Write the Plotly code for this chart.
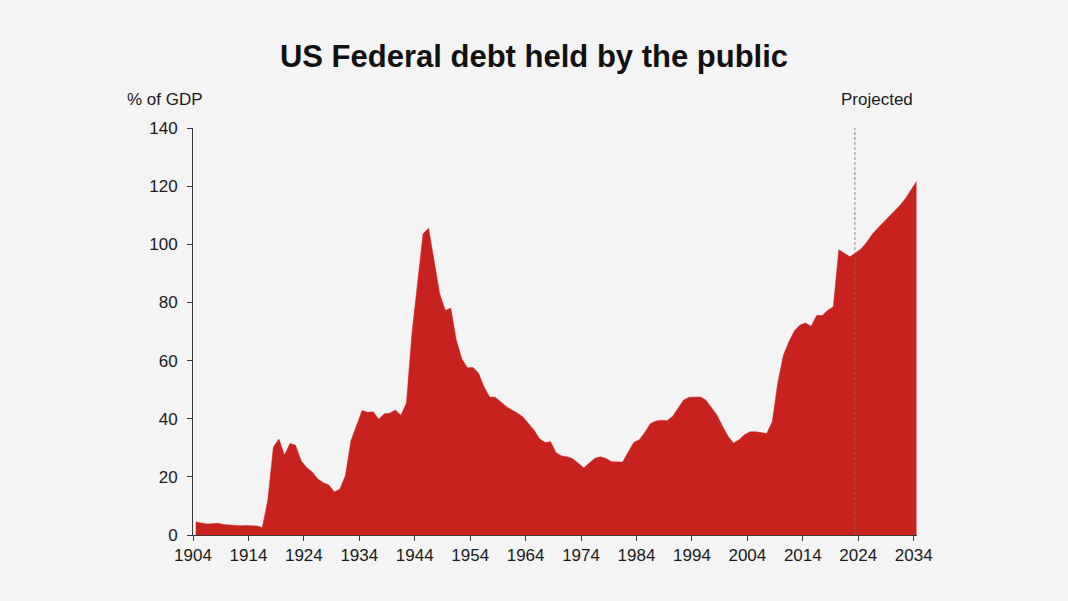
import plotly.graph_objects as go

years = list(range(1904, 2035))
debt_pct = [
    4.5, 4.1, 3.8, 3.9, 4.0, 3.6, 3.4, 3.3, 3.2, 3.3,          # 1904-1913
    3.3, 3.1, 2.6, 12.0, 30.3, 33.0, 27.5, 31.5, 30.9, 25.5,   # 1914-1923
    23.2, 21.7, 19.3, 18.0, 17.2, 14.8, 15.8, 20.5, 32.5, 37.5, # 1924-1933
    42.8, 42.2, 42.4, 39.8, 41.7, 41.9, 43.0, 41.2, 45.4, 69.5, # 1934-1943
    86.0, 103.6, 105.5, 93.5, 83.0, 77.3, 78.0, 67.0, 60.5, 57.5, # 1944-1953
    57.6, 55.7, 50.9, 47.5, 47.4, 45.8, 44.2, 43.0, 42.0, 40.6, # 1954-1963
    38.5, 36.1, 33.1, 31.8, 32.1, 28.3, 27.2, 26.9, 26.2, 24.8, # 1964-1973
    23.1, 24.8, 26.4, 26.9, 26.3, 25.2, 25.2, 25.1, 28.5, 31.8, # 1974-1983
    32.8, 35.3, 38.3, 39.2, 39.5, 39.3, 40.8, 43.8, 46.4, 47.4, # 1984-1993
    47.5, 47.5, 46.4, 44.0, 41.3, 37.5, 34.0, 31.6, 32.8, 34.5, # 1994-2003
    35.5, 35.5, 35.3, 34.9, 39.0, 52.5, 61.8, 66.5, 70.3, 72.2, # 2004-2013
    72.9, 71.8, 75.5, 75.5, 77.3, 78.5, 98.1, 96.9, 95.7, 97.0, # 2014-2023
    98.4, 100.6, 103.4, 105.5, 107.4, 109.3, 111.2, 113.3, 115.7, 118.8, # 2024-2033
    121.6,                                                       # 2034
]

tick_years = list(range(1904, 2035, 10))
y_ticks = list(range(0, 141, 20))

TITLE = "US Federal debt held by the public"
Y_LABEL = "% of GDP"
PROJ_LABEL = "Projected"

FONT = "Liberation Sans, Arial, sans-serif"
RED = "#C8221F"
BG = "#F4F4F4"
AXIS = "#3a3a3a"

# data points drawn at mid-year
x_vals = [y + 0.5 for y in years]

fig = go.Figure()
fig.add_trace(go.Scatter(
    x=x_vals, y=debt_pct, mode="lines", fill="tozeroy",
    line=dict(color=RED, width=0.5), fillcolor=RED,
    hoverinfo="x+y", showlegend=False,
))

# projection divider
fig.add_shape(type="line", xref="x", yref="y", x0=2023.4, x1=2023.4, y0=0, y1=140,
              line=dict(color="#6e6e6e", width=0.8, dash="3px,2px"), layer="above")

fig.add_annotation(text=Y_LABEL, xref="paper", yref="paper", x=-0.039, y=1.071,
                   xanchor="center", yanchor="middle", showarrow=False,
                   font=dict(family=FONT, size=17, color="#1a1a1a"))
fig.add_annotation(text=PROJ_LABEL, xref="x", yref="paper", x=2027.4, y=1.069,
                   xanchor="center", yanchor="middle", showarrow=False,
                   font=dict(family=FONT, size=17, color="#1a1a1a"))

fig.update_layout(
    width=1068, height=601,
    paper_bgcolor=BG, plot_bgcolor=BG,
    margin=dict(l=193, r=151, t=128, b=66),
    title=dict(text="<b>" + TITLE + "</b>", x=0.5, xanchor="center",
               y=1 - 56 / 601, yanchor="middle",
               font=dict(family=FONT, size=31, color="#111111")),
    font=dict(family=FONT, size=17, color="#1a1a1a"),
    xaxis=dict(range=[1904, 2034.6], tickvals=tick_years,
               ticktext=[str(t) for t in tick_years],
               showgrid=False, zeroline=False, showline=True, linecolor=AXIS,
               linewidth=1, ticks="outside", ticklen=5, tickcolor=AXIS,
               tickfont=dict(family=FONT, size=17, color="#1a1a1a")),
    yaxis=dict(range=[0, 140], tickvals=y_ticks,
               showgrid=False, zeroline=False, showline=True, linecolor=AXIS,
               linewidth=1, ticks="outside", ticklen=5, tickcolor=AXIS,
               ticklabelstandoff=6,
               tickfont=dict(family=FONT, size=17, color="#1a1a1a")),
)

fig.write_html("out.html")
